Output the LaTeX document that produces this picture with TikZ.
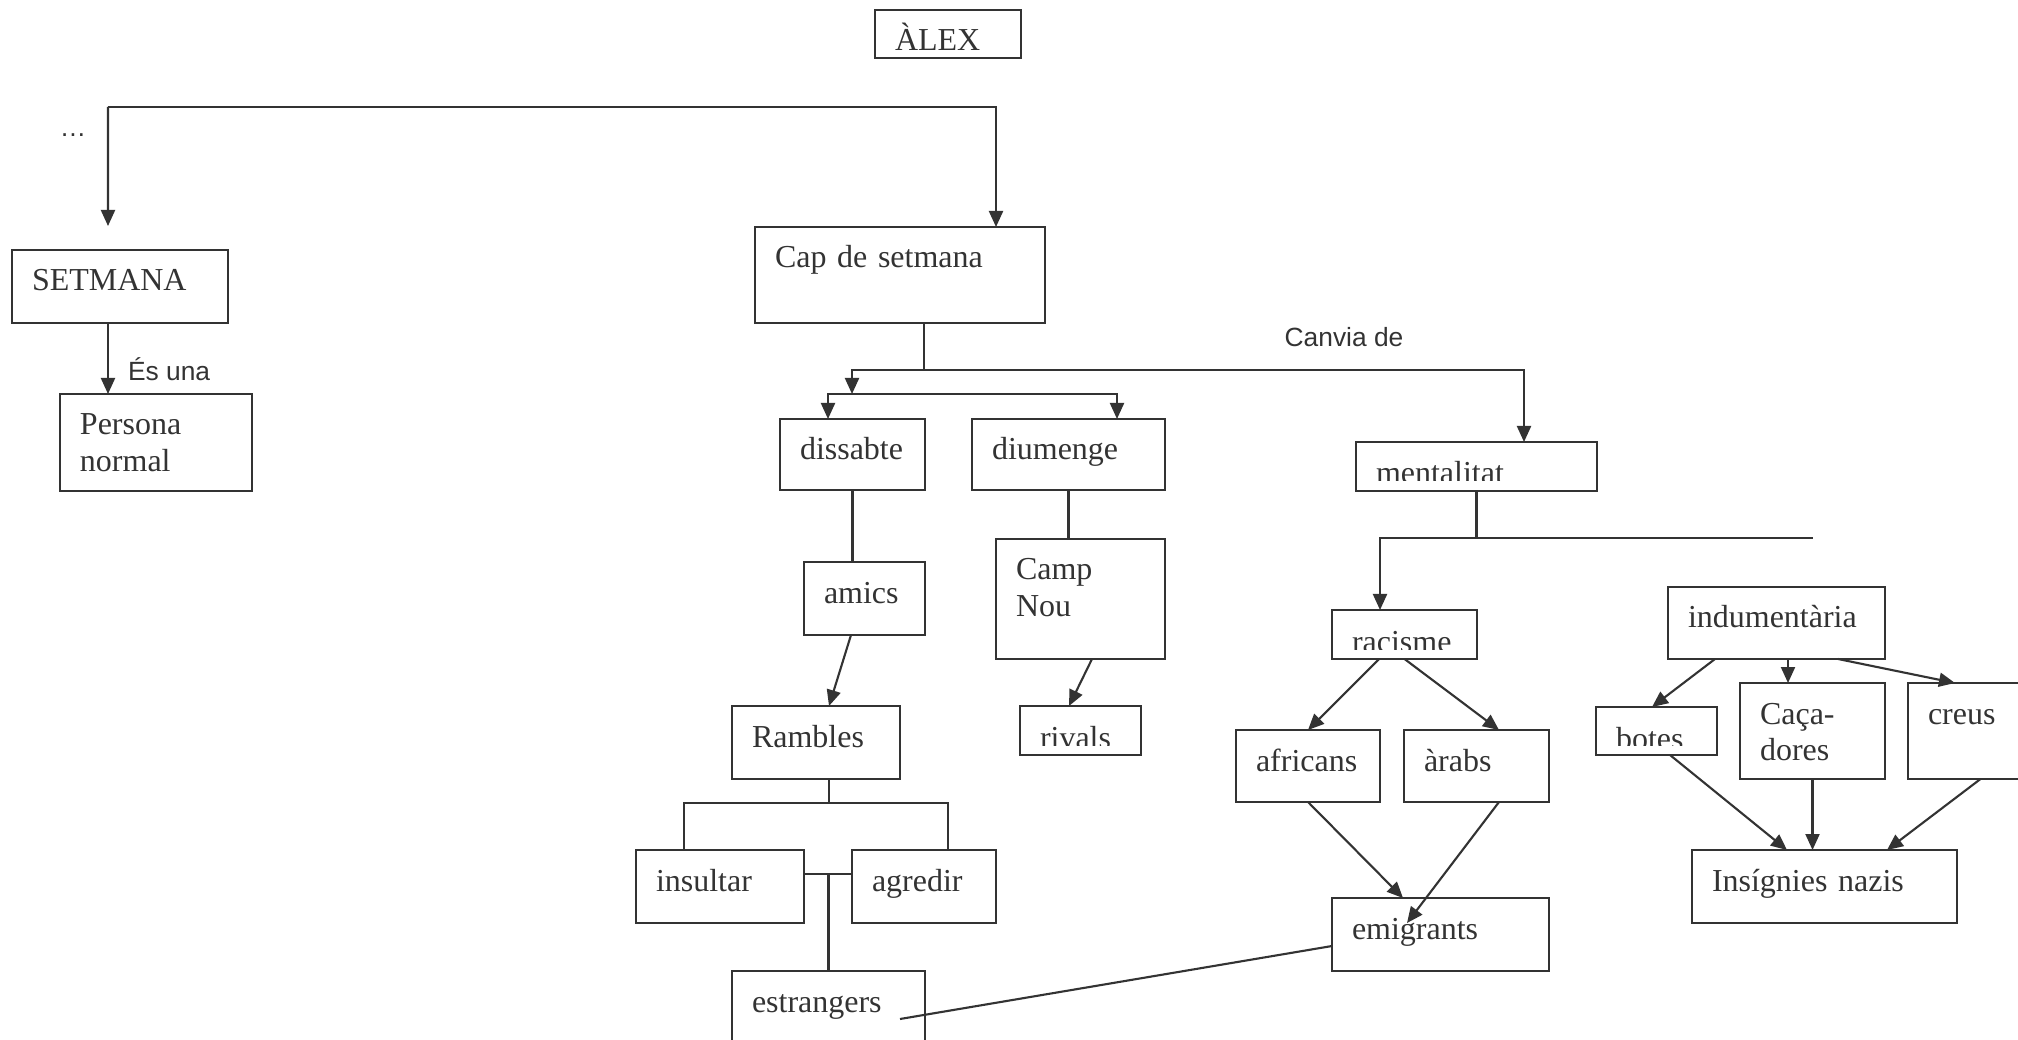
\documentclass[tikz,border=0pt]{standalone}
\usepackage{fontspec}
\setmainfont{Liberation Serif}
\setsansfont{Liberation Sans}
\usetikzlibrary{arrows.meta, positioning}
\definecolor{ink}{HTML}{333333}
\newcommand{\boxfont}{\fontsize{9.1}{10.5}\selectfont}
\tikzstyle{box} = [
	rectangle, 
	draw=ink, 
	text=ink,
	line width=0.6pt,
	outer sep=0pt,
	inner xsep=0.2cm, 
	inner ysep=0pt,
	text height=0.41cm,
	align=left, 
	font=\boxfont]
\tikzstyle{lbl} = [
	text=ink, 
	inner sep=0pt, 
	font=\sffamily\fontsize{7.5}{9}\selectfont]
\tikzstyle{arrow} = [-{Triangle[length=1.6mm, width=1.4mm]}, draw=ink, line width=0.6pt]
\tikzstyle{link} = [draw=ink, line width=0.6pt]
\tikzset{cut/.style={path picture={
	\clip ([yshift=0.1cm]path picture bounding box.south west) rectangle (path picture bounding box.north east);
	\node [anchor=base west, inner sep=0pt, text=ink, font=\boxfont] at ([xshift=0.2cm, yshift=-0.42cm]path picture bounding box.north west) {#1};}}}

\begin{document}
\begin{tikzpicture}
\useasboundingbox (0,0) rectangle (20.18,-10.40);

% --- Nodes ---
\node (alex) [box, text width=1.06cm, text depth=0.07cm] at (9.48,-0.34) {ÀLEX};
\node (dots) [lbl] at (0.73,-1.35) {\ldots};

\node (setmana) [box, text width=1.76cm, text depth=0.32cm] at (1.20,-2.865) {SETMANA};
\node (persona) [box, below=0.71cm of setmana, xshift=0.36cm, text width=1.52cm, text depth=0.56cm] {Persona\\normal};

\node (cap) [box, text width=2.50cm, text depth=0.55cm] at (9.00,-2.75) {Cap de setmana};

\node (dissabte) [box, below=0.96cm of cap, xshift=-0.475cm, text width=1.05cm, text depth=0.30cm] {dissabte};
\node (diumenge) [box, right=0.47cm of dissabte, text width=1.53cm, text depth=0.30cm] {diumenge};
\node (amics) [box, below=0.72cm of dissabte, xshift=0.12cm, text width=0.81cm, text depth=0.32cm] {amics};
\node (campnou) [box, below=0.49cm of diumenge, xshift=0.12cm, text width=1.29cm, text depth=0.79cm] {Camp\\Nou};
\node (rambles) [box, below=0.71cm of amics, xshift=-0.485cm, text width=1.28cm, text depth=0.32cm] {Rambles};
\node (rivals) [box, cut=rivals, below=0.47cm of campnou, text width=0.81cm, text depth=0.08cm] {};
\node (insultar) [box, below=0.71cm of rambles, xshift=-0.96cm, text width=1.28cm, text depth=0.32cm] {insultar};
\node (agredir) [box, right=0.48cm of insultar, text width=1.04cm, text depth=0.32cm] {agredir};
\node (estrangers) [box, below=0.48cm of insultar, xshift=1.085cm, text width=1.53cm, text depth=0.32cm] {estrangers};

\node (mentalitat) [box, cut=mentalitat, right=1.91cm of diumenge, yshift=-0.12cm, text width=2.01cm, text depth=0.08cm] {};
\node (racisme) [box, cut=racisme, below=1.19cm of mentalitat, xshift=-0.72cm, text width=1.05cm, text depth=0.08cm] {};
\node (africans) [box, below=0.71cm of racisme, xshift=-0.965cm, text width=1.04cm, text depth=0.31cm] {africans};
\node (arabs) [box, right=0.24cm of africans, text width=1.05cm, text depth=0.31cm] {àrabs};
\node (emigrants) [box, below=0.96cm of arabs, xshift=-0.36cm, text width=1.77cm, text depth=0.32cm] {emigrants};

\node (indumentaria) [box, right=1.91cm of racisme, yshift=0.115cm, text width=1.77cm, text depth=0.31cm] {indumentària};
\node (botes) [box, cut=botes, below=0.48cm of indumentaria, xshift=-1.2cm, text width=0.81cm, text depth=0.07cm] {};
\node (cacadores) [box, below=0.24cm of indumentaria, xshift=0.36cm, text width=1.05cm, text depth=0.55cm] {Caça-\\dores};
\node (creus) [box, right=0.23cm of cacadores, text width=1.05cm, text depth=0.55cm] {creus};
\node (insignies) [box, below=0.71cm of cacadores, xshift=0.12cm, text width=2.25cm, text depth=0.32cm] {Insígnies nazis};

% --- Split points ---
\coordinate (hub) at (1.08,-1.07);
\coordinate (capsplit) at ([xshift=0.24cm, yshift=-0.47cm]cap.south);
\coordinate (daysplit) at ([xshift=-0.72cm, yshift=-0.24cm]capsplit);
\coordinate (rsplit) at ([xshift=0.13cm, yshift=-0.24cm]rambles.south);
\coordinate (ia) at ([yshift=0.125cm]insultar.east);
\coordinate (msplit) at ([yshift=-0.47cm]mentalitat.south);
\coordinate (mend) at ([xshift=3.365cm]msplit);

% --- Arrows ---
\draw [arrow] (hub) -- ([xshift=-0.12cm, yshift=0.24cm]setmana.north);
\draw [arrow] (hub) -| ([xshift=0.96cm]cap.north);

\draw [arrow] ([xshift=-0.12cm]setmana.south) -- ([xshift=-0.12cm]setmana.south |- persona.north) node[lbl, pos=0.65, right=0.19cm]{És una};

\draw [link] ([xshift=0.24cm]cap.south) -- (capsplit);
\draw [arrow] (capsplit) -| ([xshift=0.475cm]mentalitat.north) node[lbl, pos=0.35, above=0.22cm]{Canvia de};
\draw [arrow] (capsplit) -| (daysplit);
\draw [arrow] (daysplit) -| ([xshift=-0.245cm]dissabte.north);
\draw [arrow] (daysplit) -| ([xshift=0.485cm]diumenge.north);

\draw [link] (dissabte.south) -- (dissabte.south |- amics.north);
\draw [link] (diumenge.south) -- (diumenge.south |- campnou.north);
\draw [arrow] ([xshift=-0.135cm]amics.south) -- ([xshift=0.13cm]rambles.north);
\draw [arrow] ([xshift=0.115cm]campnou.south) -- ([xshift=-0.115cm]rivals.north);

\draw [link] ([xshift=0.13cm]rambles.south) -- (rsplit);
\draw [link] (rsplit) -| ([xshift=-0.36cm]insultar.north);
\draw [link] (rsplit) -| ([xshift=0.24cm]agredir.north);
\draw [link] (ia) -- (ia -| agredir.west);
\draw [link] (estrangers.north) -- (estrangers.north |- ia);
\draw [link] ([xshift=0.715cm, yshift=-0.115cm]estrangers.center) -- ([yshift=-0.115cm]emigrants.west);

\draw [link] (mentalitat.south) -- (msplit);
\draw [link] (msplit) -- (mend);
\draw [arrow] (msplit) -| ([xshift=-0.245cm]racisme.north);

\draw [arrow] ([xshift=-0.255cm]racisme.south) -- (africans.north);
\draw [arrow] (racisme.south) -- ([xshift=0.225cm]arabs.north);
\draw [arrow] (africans.south) -- ([xshift=-0.375cm]emigrants.north);
\draw [arrow] ([xshift=0.225cm]arabs.south) -- ([xshift=-0.335cm, yshift=0.115cm]emigrants.center);

\draw [arrow] ([xshift=-0.615cm]indumentaria.south) -- ([xshift=-0.045cm]botes.north);
\draw [arrow] ([xshift=0.115cm]indumentaria.south) -- ([xshift=0.115cm]indumentaria.south |- cacadores.north);
\draw [arrow] ([xshift=0.615cm]indumentaria.south) -- ([xshift=-0.255cm]creus.north);
\draw [arrow] ([xshift=0.135cm]botes.south) -- ([xshift=-0.375cm]insignies.north);
\draw [arrow] (cacadores.south) -- (cacadores.south |- insignies.north);
\draw [arrow] (creus.south) -- ([xshift=0.625cm]insignies.north);

\end{tikzpicture}
\end{document}
